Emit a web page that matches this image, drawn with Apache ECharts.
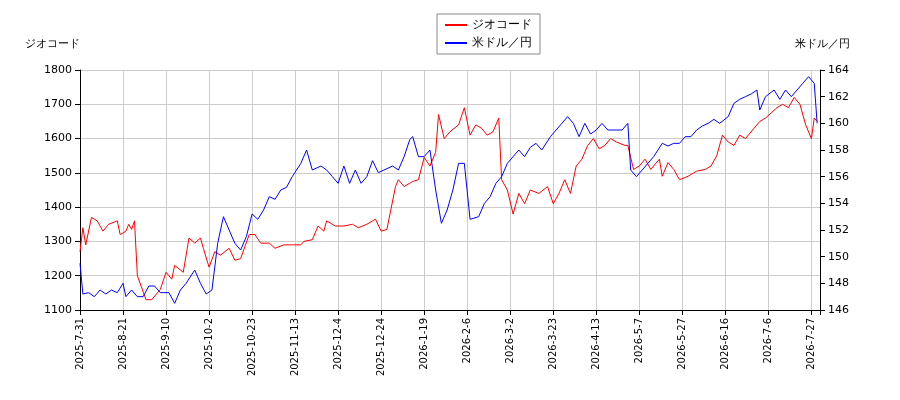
<!DOCTYPE html>
<html><head><meta charset="utf-8">
<script src="https://cdn.jsdelivr.net/npm/echarts@6/dist/echarts.min.js"></script>
<style>body{margin:0}#c{width:900px;height:400px}</style></head>
<body><div id="c"></div>
<script>
// x tick labels, one every 15 trading days
const tickLabels = ["2025-7-31","2025-8-21","2025-9-10","2025-10-2","2025-10-23","2025-11-13","2025-12-4","2025-12-24","2026-1-19","2026-2-6","2026-3-2","2026-3-23","2026-4-13","2026-5-7","2026-5-27","2026-6-16","2026-7-6","2026-7-27"];

// ジオコード (left axis), day index + price
const geoDays = [0,1,2,4,6,8,10,13,14,16,17,18,19,20,23,25,28,30,32,33,36,38,40,42,43,45,47,49,52,54,56,59,61,63,66,68,71,74,77,78,81,83,85,86,89,92,95,97,100,103,105,107,110,111,113,116,118,120,122,124,125,127,129,132,134,136,138,140,142,144,146,147,149,151,153,155,157,160,163,165,167,169,171,173,175,177,179,181,183,185,187,190,191,193,195,197,199,202,203,205,207,209,212,215,218,220,222,224,226,228,230,232,235,237,239,241,243,245,247,249,251,253,255,256,257];
const geoVals = [1270,1340,1290,1370,1360,1330,1350,1360,1320,1330,1350,1335,1360,1200,1130,1130,1160,1210,1190,1230,1210,1310,1295,1310,1280,1225,1270,1260,1280,1245,1250,1320,1320,1295,1295,1280,1290,1290,1290,1300,1305,1345,1330,1360,1345,1345,1350,1340,1350,1365,1330,1335,1460,1480,1460,1475,1480,1545,1520,1560,1670,1600,1620,1640,1690,1610,1640,1630,1610,1620,1660,1480,1450,1380,1440,1410,1450,1440,1460,1410,1440,1480,1440,1520,1540,1580,1600,1570,1580,1600,1590,1580,1580,1510,1520,1540,1510,1540,1490,1530,1510,1480,1490,1505,1510,1520,1550,1610,1590,1580,1610,1600,1630,1650,1660,1675,1690,1700,1690,1720,1700,1640,1600,1660,1650];

// 米ドル／円 (right axis)
const usdDays = [0,1,3,5,7,9,11,13,15,16,18,20,22,24,26,28,31,33,35,37,40,42,44,46,48,50,52,54,56,58,60,62,64,66,68,70,72,74,77,79,81,84,86,88,90,92,94,96,98,100,102,104,106,109,111,113,115,116,118,120,122,124,126,128,130,132,134,136,139,141,143,145,147,149,151,153,155,157,159,161,164,166,168,170,172,174,176,178,180,182,184,187,189,191,192,194,196,198,200,203,205,207,209,211,213,215,217,219,221,223,226,228,230,232,234,236,237,239,242,244,246,248,250,252,254,256,257];
const usdVals = [149.5,147.2,147.3,147.0,147.5,147.2,147.5,147.3,148.0,147.0,147.5,147.0,147.0,147.8,147.8,147.3,147.3,146.5,147.5,148.0,149.0,148.0,147.2,147.5,151.0,153.0,152.0,151.0,150.5,151.5,153.2,152.8,153.5,154.5,154.3,155.0,155.2,156.0,157.0,158.0,156.5,156.8,156.5,156.0,155.5,156.8,155.5,156.5,155.5,156.0,157.2,156.3,156.5,156.8,156.5,157.5,158.8,159.0,157.5,157.5,158.0,155.0,152.5,153.5,155.0,157.0,157.0,152.8,153.0,154.0,154.5,155.5,156.0,157.0,157.5,158.0,157.5,158.2,158.5,158.0,159.0,159.5,160.0,160.5,160.0,159.0,160.0,159.2,159.5,160.0,159.5,159.5,159.5,160.0,156.5,156.0,156.5,157.0,157.5,158.5,158.3,158.5,158.5,159.0,159.0,159.5,159.8,160.0,160.3,160.0,160.5,161.5,161.8,162.0,162.2,162.5,161.0,162.0,162.5,161.8,162.5,162.0,162.5,163.0,163.5,163.0,160.0];

const zip = (a, b) => a.map((d, i) => [d, b[i]]);
const font = "DejaVu Sans";
const chart = echarts.init(document.getElementById("c"));
chart.setOption({
  animation: false,
  textStyle: { fontFamily: font },
  legend: {
    top: 14, left: 437, orient: "vertical",
    borderColor: "#888", borderWidth: 1, borderRadius: 0, padding: [5, 8],
    itemWidth: 22, itemHeight: 2, itemGap: 6,
    textStyle: { fontSize: 12, color: "#000" },
    data: [{ name: "ジオコード", icon: "rect" }, { name: "米ドル／円", icon: "rect" }]
  },
  grid: { left: 80, right: 80, top: 70, bottom: 90 },
  xAxis: {
    type: "value", min: 0, max: 258, interval: 15,
    axisLine: { lineStyle: { color: "#000" } },
    axisTick: { lineStyle: { color: "#000" } },
    axisLabel: {
      rotate: 90, fontSize: 10, color: "#000",
      formatter: v => tickLabels[v / 15] || ""
    },
    splitLine: { show: true, lineStyle: { color: "#ccc" } }
  },
  yAxis: [
    {
      type: "value", min: 1100, max: 1800, interval: 100,
      name: "ジオコード", nameGap: 20, nameTextStyle: { color: "#000", fontSize: 11, align: "right" },
      axisLine: { show: true, lineStyle: { color: "#000" } },
      axisTick: { show: true },
      axisLabel: { color: "#000", fontSize: 11, formatter: v => String(v) },
      splitLine: { lineStyle: { color: "#ccc" } }
    },
    {
      type: "value", min: 146, max: 164, interval: 2,
      name: "米ドル／円", nameGap: 20, nameTextStyle: { color: "#000", fontSize: 11, align: "right", padding: [0, -30, 0, 0] },
      axisLine: { show: true, lineStyle: { color: "#000" } },
      axisTick: { show: true },
      axisLabel: { color: "#000", fontSize: 11 },
      splitLine: { show: false }
    }
  ],
  series: [
    { name: "ジオコード", type: "line", yAxisIndex: 0, showSymbol: false,
      lineStyle: { width: 1, color: "#f00" }, itemStyle: { color: "#f00" },
      data: zip(geoDays, geoVals) },
    { name: "米ドル／円", type: "line", yAxisIndex: 1, showSymbol: false,
      lineStyle: { width: 1, color: "#00f" }, itemStyle: { color: "#00f" },
      data: zip(usdDays, usdVals) }
  ]
});
</script></body></html>
